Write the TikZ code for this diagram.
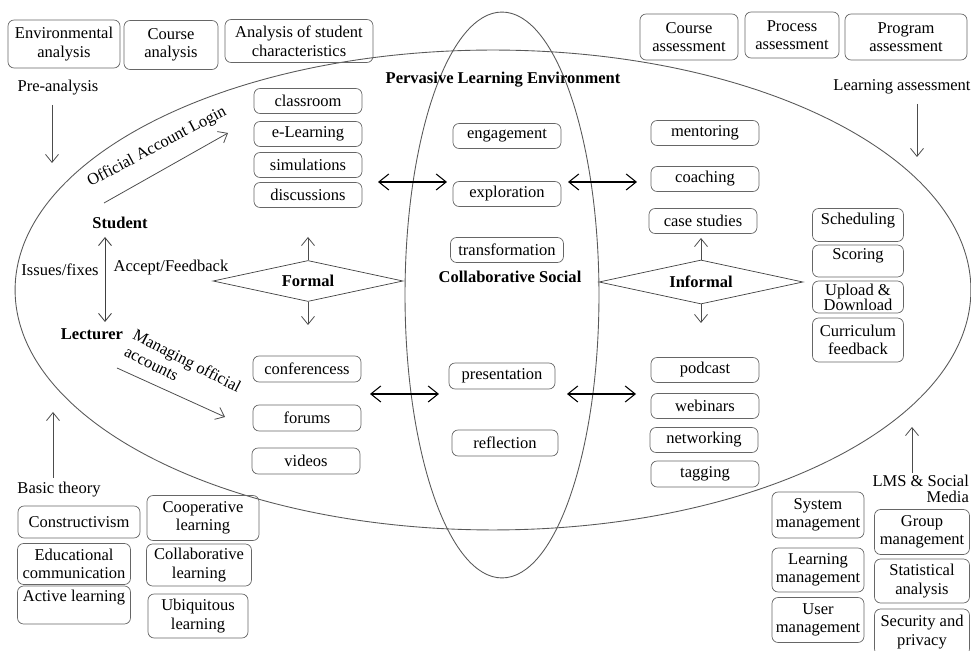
\documentclass[tikz,border=0pt]{standalone}
\usepackage{fontspec}
\setmainfont{Liberation Serif}
\usetikzlibrary{shapes.geometric,arrows.meta}

\tikzset{
  sz/.style 2 args={minimum width=#1*0.02cm, minimum height=#2*0.02cm},
  rbox/.style={draw=black!60, rounded corners=3.5pt, align=center, inner sep=1pt,
    font=\fontsize{9.4}{10.6}\selectfont},
  dbox/.style={draw=black!75, diamond, shape aspect=4.6, inner sep=0pt,
    font=\bfseries\fontsize{9.4}{11}\selectfont},
  lbl/.style={inner sep=1pt, font=\fontsize{9.4}{10.6}\selectfont},
  blbl/.style={inner sep=1pt, font=\bfseries\fontsize{9.4}{11}\selectfont},
  barb/.style={black, line width=0.6pt,
    {Straight Barb[length=2mm,width=3.2mm]}-{Straight Barb[length=2mm,width=3.2mm]}},
  vbarb/.style={black!75, line width=0.5pt,
    {Straight Barb[length=1.6mm,width=2.6mm]}-{Straight Barb[length=1.6mm,width=2.6mm]}},
  sarrow/.style={black!70, line width=0.45pt, -{Straight Barb[length=1.6mm,width=2.6mm]}},
}

\begin{document}
\begin{tikzpicture}[x=0.02cm, y=-0.02cm]
  \useasboundingbox (0,0) rectangle (971,651);

  % environment ellipses
  \draw[black!65, line width=0.5pt] (493,290) ellipse [x radius=9.56cm, y radius=4.8cm];
  \draw[black!65, line width=0.5pt] (502,295) ellipse [x radius=1.94cm, y radius=5.66cm];
  \node[blbl] (ple) at (503,80) {Pervasive Learning Environment};

  % pre-analysis
  \node[rbox, sz={112}{48}] (envan) at (64,44) {Environmental\\analysis};
  \node[rbox, sz={94}{49}] (crsan) at (171,45) {Course\\analysis};
  \node[rbox, sz={148}{43}] (stuan) at (299,41) {Analysis of student\\characteristics};
  \node[lbl] (prean) at (58,88) {Pre-analysis};
  \coordinate (prea1) at (52,105);
  \coordinate (prea2) at (52,163);
  \draw[sarrow] (prea1) -- (prea2);

  % learning assessment
  \node[rbox, sz={98}{46}] (crsas) at (689,37) {Course\\assessment};
  \node[rbox, sz={94}{46}] (proas) at (792,35) {Process\\assessment};
  \node[rbox, sz={122}{46}] (prgas) at (906,37) {Program\\assessment};
  \node[lbl] (lrnas) at (902,87) {Learning assessment};
  \coordinate (lrna1) at (917,104);
  \coordinate (lrna2) at (917,157);
  \draw[sarrow] (lrna1) -- (lrna2);

  % student and lecturer
  \node[blbl] (stud) at (120,223) {Student};
  \node[blbl] (lect) at (92,334) {Lecturer};
  \node[lbl] (issue) at (60,270) {Issues/fixes};
  \node[lbl] (accpt) at (171,268) {Accept/Feedback};
  \coordinate (sl1) at (105,237);
  \coordinate (sl2) at (105,322);
  \draw[vbarb] (sl1) -- (sl2);
  \coordinate (log1) at (104,203);
  \coordinate (log2) at (228,133);
  \draw[sarrow] (log1) -- (log2);
  \node[lbl, rotate=28] (login) at (157,147) {Official Account Login};
  \coordinate (man1) at (117,368);
  \coordinate (man2) at (225,417);
  \draw[sarrow] (man1) -- (man2);
  \node[lbl, rotate=-27, align=left] (manag) at (183,369) {Managing official\\accounts};

  % formal
  \node[rbox, sz={108}{25}] (class) at (308,101) {classroom};
  \node[rbox, sz={108}{25}] (elrn) at (308,134) {e-Learning};
  \node[rbox, sz={108}{25}] (simul) at (308,165) {simulations};
  \node[rbox, sz={108}{25}] (discu) at (308,195) {discussions};
  \node[dbox, sz={190}{41}] (formal) at (308,281) {Formal};
  \coordinate (fup) at (308,237);
  \coordinate (fdn) at (308,325);
  \draw[sarrow] (formal.north) -- (fup);
  \draw[sarrow] (formal.south) -- (fdn);
  \node[rbox, sz={108}{26}] (confe) at (307,369) {conferencess};
  \node[rbox, sz={108}{26}] (forum) at (307,418) {forums};
  \node[rbox, sz={108}{26}] (video) at (306,461) {videos};

  % collaborative social
  \node[rbox, sz={108}{25}] (engag) at (507,136) {engagement};
  \node[rbox, sz={108}{25}] (explo) at (507,194) {exploration};
  \node[rbox, sz={113}{25}] (trans) at (507,250) {transformation};
  \node[blbl] (colso) at (510,277) {Collaborative Social};
  \node[rbox, sz={106}{26}] (prese) at (502,376) {presentation};
  \node[rbox, sz={106}{26}] (refle) at (505,443) {reflection};

  % informal
  \node[rbox, sz={108}{25}] (mento) at (705,133) {mentoring};
  \node[rbox, sz={108}{25}] (coach) at (705,179) {coaching};
  \node[rbox, sz={108}{25}] (cases) at (703,221) {case studies};
  \node[dbox, sz={204}{44}] (informal) at (701,282) {Informal};
  \coordinate (iup) at (701,238);
  \coordinate (idn) at (701,323);
  \draw[sarrow] (informal.north) -- (iup);
  \draw[sarrow] (informal.south) -- (idn);
  \node[rbox, sz={108}{25}] (podca) at (705,370) {podcast};
  \node[rbox, sz={108}{25}] (webin) at (705,406) {webinars};
  \node[rbox, sz={108}{25}] (netwo) at (704,440) {networking};
  \node[rbox, sz={108}{26}] (taggi) at (705,474) {tagging};

  % links between the columns
  \coordinate (ua1) at (378,182);
  \coordinate (ua2) at (447,182);
  \coordinate (ub1) at (568,182);
  \coordinate (ub2) at (637,182);
  \coordinate (la1) at (370,394);
  \coordinate (la2) at (439,394);
  \coordinate (lb1) at (567,394);
  \coordinate (lb2) at (636,394);
  \draw[barb] (ua1) -- (ua2);
  \draw[barb] (ub1) -- (ub2);
  \draw[barb] (la1) -- (la2);
  \draw[barb] (lb1) -- (lb2);

  % lms functions
  \node[rbox, sz={91}{33}] (sched) at (858,225) {Scheduling\\[-3pt]\mbox{}};
  \node[rbox, sz={91}{32}] (scor) at (858,261) {Scoring\\[-3pt]\mbox{}};
  \node[rbox, sz={91}{32}, font=\fontsize{9.4}{8.6}\selectfont] (upld) at (858,297) {Upload \&\\Download};
  \node[rbox, sz={91}{44}] (curri) at (858,340) {Curriculum\\feedback};

  % basic theory
  \node[lbl] (basic) at (59,490) {Basic theory};
  \coordinate (bas1) at (53,478);
  \coordinate (bas2) at (53,412);
  \draw[sarrow] (bas1) -- (bas2);
  \node[rbox, sz={122}{32}] (cnstr) at (79,522) {Constructivism};
  \node[rbox, sz={113}{41}] (educo) at (74,564) {Educational\\communication};
  \node[rbox, sz={113}{38}] (activ) at (74,605) {Active learning\\\mbox{}};
  \node[rbox, sz={112}{45}] (coope) at (203,518) {Cooperative\\learning};
  \node[rbox, sz={105}{42}] (colla) at (199,565) {Collaborative\\learning};
  \node[rbox, sz={100}{44}] (ubiqu) at (198,616) {Ubiquitous\\learning};

  % lms and social media
  \coordinate (lms1) at (912,473);
  \coordinate (lms2) at (912,427);
  \draw[sarrow] (lms1) -- (lms2);
  \node[lbl, anchor=east, align=right, font=\fontsize{9.4}{8.8}\selectfont] (lmsso) at (971,489) {LMS \& Social\\Media};
  \node[rbox, sz={92}{46}] (sysma) at (818,515) {System\\management};
  \node[rbox, sz={92}{44}] (lrnma) at (818,570) {Learning\\management};
  \node[rbox, sz={92}{45}] (usema) at (818,620) {User\\management};
  \node[rbox, sz={95}{45}] (groma) at (922,532) {Group\\management};
  \node[rbox, sz={95}{44}] (stata) at (922,581) {Statistical\\analysis};
  \node[rbox, sz={95}{46}] (secpr) at (922,632) {Security and\\privacy};
\end{tikzpicture}
\end{document}
